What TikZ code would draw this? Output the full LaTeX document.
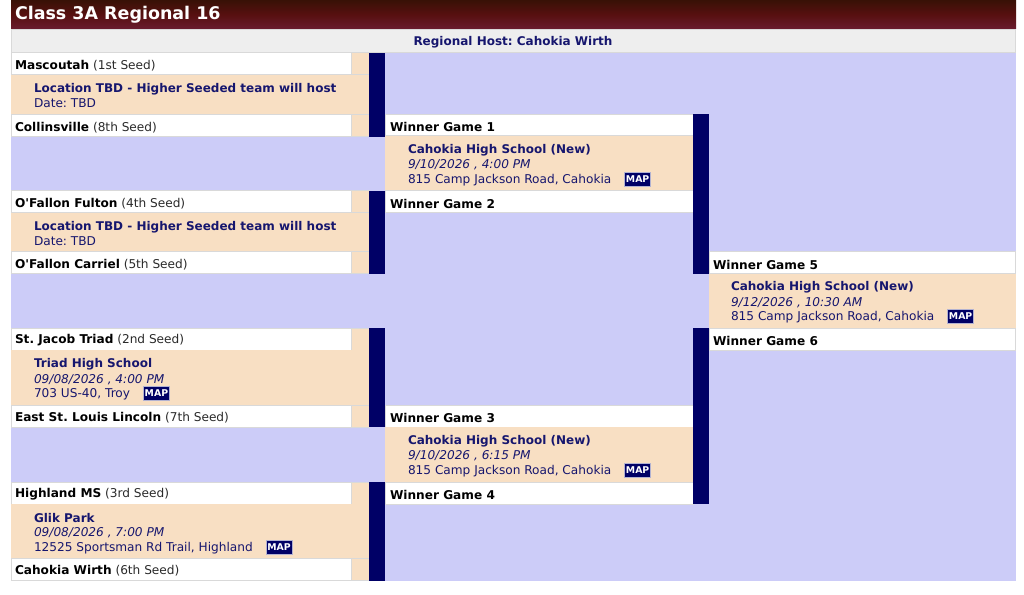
\documentclass[tikz,border=0pt]{standalone}
\usepackage{fontspec}
\setmainfont{DejaVu Sans}
\usetikzlibrary{positioning}

\definecolor{titletop}{HTML}{381106}
\definecolor{titlemid}{HTML}{571010}
\definecolor{titlebot}{HTML}{691C2F}
\definecolor{hostgray}{HTML}{EEEEEE}
\definecolor{cellline}{HTML}{D9D9D9}
\definecolor{lavender}{HTML}{CCCCF8}
\definecolor{peach}{HTML}{F8DFC3}
\definecolor{bracket}{HTML}{000066}
\definecolor{venuetext}{HTML}{16166E}
\definecolor{seedtext}{HTML}{2A2A2A}

\begin{document}
\frenchspacing
\begin{tikzpicture}[x=0.75pt, y=-0.75pt,
    every node/.style={inner sep=0pt, outer sep=0pt, anchor=west,
        font=\fontsize{9.1}{11}\selectfont},
    teamcell/.style={fill=white, draw=cellline, line width=0.75pt},
    sitecell/.style={fill=peach, draw=cellline, line width=0.75pt},
    bar/.style={fill=bracket},
    team/.style={text=black, yshift=-1.2pt},
    venue/.style={text=venuetext, yshift=-1.2pt, font=\fontsize{9}{11}\selectfont\bfseries},
    when/.style={text=venuetext, yshift=-1.2pt, font=\fontsize{9.1}{11}\selectfont\itshape},
    where/.style={text=venuetext, yshift=-1.2pt},
    mapbadge/.style={fill=bracket, draw=white!70!bracket, line width=0.4pt,
        anchor=center, text=white, minimum width=19.5pt, minimum height=9.8pt,
        font=\fontsize{7}{7}\selectfont\bfseries},
]
    \useasboundingbox (0,0) rectangle (1024,595);
    \fill[white] (0,0) rectangle (1024,595);

    % title and host
    \shade[top color=titletop, bottom color=titlebot, middle color=titlemid]
        (11,0) rectangle (1016,29);
    \node[text=white, font=\fontsize{13.1}{14}\selectfont\bfseries] (title)
        at (15,15) {Class 3A Regional 16};
    \draw[fill=hostgray, draw=cellline, line width=0.75pt] (11,29.5) rectangle (1015.5,52.5);
    \node[anchor=center, text=venuetext, font=\fontsize{9}{11}\selectfont\bfseries] (host)
        at (513,42) {Regional Host: Cahokia Wirth};

    \fill[lavender] (11,53) rectangle (1015.5,581);

    % first round, games 1 to 4
    \draw[teamcell] (11,53) rectangle (351,75);
    \draw[sitecell] (351,53) rectangle (369,75);
    \fill[peach] (11,75) rectangle (369,114.5);
    \draw[teamcell] (11,114.5) rectangle (351,137);
    \draw[sitecell] (351,114.5) rectangle (369,137);
    \fill[bar] (369,53) rectangle (385,137);

    \draw[teamcell] (11,191) rectangle (351,213);
    \draw[sitecell] (351,191) rectangle (369,213);
    \fill[peach] (11,213) rectangle (369,252);
    \draw[teamcell] (11,252) rectangle (351,274);
    \draw[sitecell] (351,252) rectangle (369,274);
    \fill[bar] (369,191) rectangle (385,274);

    \draw[teamcell] (11,328) rectangle (351,350);
    \draw[sitecell] (351,328) rectangle (369,350);
    \fill[peach] (11,350) rectangle (369,405);
    \draw[teamcell] (11,405) rectangle (351,427);
    \draw[sitecell] (351,405) rectangle (369,427);
    \fill[bar] (369,328) rectangle (385,427);

    \draw[teamcell] (11,482) rectangle (351,504);
    \draw[sitecell] (351,482) rectangle (369,504);
    \fill[peach] (11,504) rectangle (369,558);
    \draw[teamcell] (11,558) rectangle (351,580);
    \draw[sitecell] (351,558) rectangle (369,580);
    \fill[bar] (369,482) rectangle (385,581);

    \node[team] (mascoutah) at (15,64) {\textbf{Mascoutah} \textcolor{seedtext}{(1st Seed)}};
    \node[venue] (site1) at (34,88) {Location TBD - Higher Seeded team will host};
    \node[where] (date1) at (34,102) {Date: TBD};
    \node[team] (collinsville) at (15,126) {\textbf{Collinsville} \textcolor{seedtext}{(8th Seed)}};

    \node[team] (fulton) at (15,202) {\textbf{O\textquotesingle Fallon Fulton} \textcolor{seedtext}{(4th Seed)}};
    \node[venue] (site2) at (34,226) {Location TBD - Higher Seeded team will host};
    \node[where] (date2) at (34,240) {Date: TBD};
    \node[team] (carriel) at (15,263) {\textbf{O\textquotesingle Fallon Carriel} \textcolor{seedtext}{(5th Seed)}};

    \node[team] (triad) at (15,339) {\textbf{St. Jacob Triad} \textcolor{seedtext}{(2nd Seed)}};
    \node[venue] (site3) at (34,363) {Triad High School};
    \node[when] (date3) at (34,378) {09/08/2026 , 4:00 PM};
    \node[where] (addr3) at (34,393) {703 US-40, Troy};
    \node[mapbadge, right=10pt of addr3, yshift=1pt] (map3) {MAP};
    \node[team] (eslincoln) at (15,416) {\textbf{East St. Louis Lincoln} \textcolor{seedtext}{(7th Seed)}};

    \node[team] (highland) at (15,493) {\textbf{Highland MS} \textcolor{seedtext}{(3rd Seed)}};
    \node[venue] (site4) at (34,516) {Glik Park};
    \node[when] (date4) at (34,531) {09/08/2026 , 7:00 PM};
    \node[where] (addr4) at (34,547) {12525 Sportsman Rd Trail, Highland};
    \node[mapbadge, right=10pt of addr4, yshift=1pt] (map4) {MAP};
    \node[team] (wirth) at (15,569) {\textbf{Cahokia Wirth} \textcolor{seedtext}{(6th Seed)}};

    % second round, games 5 and 6
    \draw[teamcell] (385,114.5) rectangle (693,136);
    \fill[peach] (385,136) rectangle (693,191);
    \draw[teamcell] (385,191) rectangle (693,213);
    \fill[bar] (693,114.5) rectangle (709,274);

    \draw[teamcell] (385,405) rectangle (693,427);
    \fill[peach] (385,427) rectangle (693,482);
    \draw[teamcell] (385,482) rectangle (693,504);
    \fill[bar] (693,328) rectangle (709,504);

    \node[team] (w1) at (390,125) {\textbf{Winner Game 1}};
    \node[venue] (site5) at (408,149) {Cahokia High School (New)};
    \node[when] (date5) at (408,163) {9/10/2026 , 4:00 PM};
    \node[where] (addr5) at (408,179) {815 Camp Jackson Road, Cahokia};
    \node[mapbadge, right=10pt of addr5, yshift=1pt] (map5) {MAP};
    \node[team] (w2) at (390,202) {\textbf{Winner Game 2}};

    \node[team] (w3) at (390,416) {\textbf{Winner Game 3}};
    \node[venue] (site6) at (408,440) {Cahokia High School (New)};
    \node[when] (date6) at (408,454) {9/10/2026 , 6:15 PM};
    \node[where] (addr6) at (408,470) {815 Camp Jackson Road, Cahokia};
    \node[mapbadge, right=10pt of addr6, yshift=1pt] (map6) {MAP};
    \node[team] (w4) at (390,493) {\textbf{Winner Game 4}};

    % final, game 7
    \draw[teamcell] (709,252) rectangle (1015.5,274);
    \fill[peach] (709,274) rectangle (1015.5,328);
    \draw[teamcell] (709,328) rectangle (1015.5,350);

    \node[team] (w5) at (713,263) {\textbf{Winner Game 5}};
    \node[venue] (site7) at (731,286) {Cahokia High School (New)};
    \node[when] (date7) at (731,301) {9/12/2026 , 10:30 AM};
    \node[where] (addr7) at (731,316) {815 Camp Jackson Road, Cahokia};
    \node[mapbadge, right=10pt of addr7, yshift=1pt] (map7) {MAP};
    \node[team] (w6) at (713,339) {\textbf{Winner Game 6}};
\end{tikzpicture}
\end{document}
